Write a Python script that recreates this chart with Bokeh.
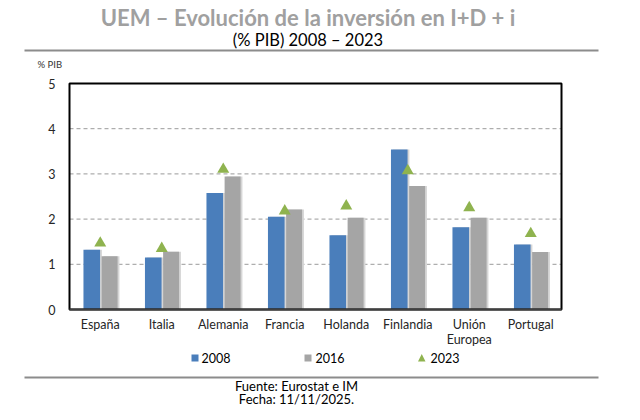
from bokeh.plotting import figure
from bokeh.models import (Range1d, FixedTicker, Label, ColumnDataSource,
                          BoxAnnotation, PolyAnnotation)
from bokeh.transform import dodge
from bokeh.embed import file_html
from bokeh.resources import INLINE

categories = ["España", "Italia", "Alemania", "Francia", "Holanda", "Finlandia",
              "Unión\nEuropea", "Portugal"]
v2008 = [1.32, 1.15, 2.58, 2.05, 1.64, 3.54, 1.82, 1.44]
v2016 = [1.18, 1.28, 2.94, 2.21, 2.03, 2.73, 2.03, 1.27]
v2023 = [1.47, 1.35, 3.10, 2.18, 2.29, 3.07, 2.25, 1.68]
series = ["2008", "2016", "2023"]
y_ticks = [0, 1, 2, 3, 4, 5]
title_text = "UEM – Evolución de la inversión en I+D + i"
subtitle_text = "(% PIB) 2008 – 2023"
unit_text = "% PIB"
source_text = "Fuente: Eurostat e IM"
date_text = "Fecha: 11/11/2025."

BLUE = "#4a7ebb"
GRAY = "#a5a5a5"
GREEN = "#8fb34f"
RULE = "#8c8c8c"
FONT = "Lato"

W, H = 640, 420
# plot-area placement on the canvas (pixels)
PL, PR, PT, PB = 69, 561, 83, 309
n = len(categories)
ymax = y_ticks[-1]
xs_per_px = n / (PR - PL)
ys_per_px = ymax / (PB - PT)
x_range = Range1d(-0.5 - PL * xs_per_px, n - 0.5 + (W - PR) * xs_per_px)
y_range = Range1d(-(H - PB) * ys_per_px, ymax + PT * ys_per_px)

xs = list(range(n))
src = ColumnDataSource(dict(x=xs, a=v2008, b=v2016, c=v2023))

p = figure(width=W, height=H, x_range=x_range, y_range=y_range, min_border=0,
           output_backend="svg", toolbar_location=None, tools="")
p.outline_line_color = None
p.xgrid.visible = False
p.ygrid.visible = False

# dashed gridlines across the plot area
p.segment(x0=[-0.5] * (len(y_ticks) - 2), x1=[n - 0.5] * (len(y_ticks) - 2),
          y0=y_ticks[1:-1], y1=y_ticks[1:-1],
          line_color="#9a9a9a", line_dash="4 3", line_width=1)

# bars (with soft shadow)
p.vbar(x=dodge("x", -0.138 + 0.03), top="a", width=0.27, source=src,
       fill_color="#d6d6d6", line_color=None)
p.vbar(x=dodge("x", 0.152 + 0.03), top="b", width=0.26, source=src,
       fill_color="#d6d6d6", line_color=None)
p.vbar(x=dodge("x", -0.138), top="a", width=0.27, source=src,
       fill_color=BLUE, line_color=None)
p.vbar(x=dodge("x", 0.152), top="b", width=0.26, source=src,
       fill_color=GRAY, line_color=None)
p.scatter(x="x", y="c", source=src, marker="triangle", size=12,
          fill_color=GREEN, line_color=None)

# plot-area border
p.quad(left=[-0.5], right=[n - 0.5], bottom=[0], top=[ymax],
       fill_color=None, line_color="black", line_width=2)

# axes pinned to the plot area
p.yaxis.fixed_location = -0.5
p.yaxis.bounds = (0, ymax)
p.yaxis.ticker = FixedTicker(ticks=y_ticks)
p.yaxis.axis_line_color = None
p.yaxis.major_tick_line_color = None
p.yaxis.minor_tick_line_color = None
p.yaxis.major_label_text_font = FONT
p.yaxis.major_label_text_font_size = "12.5px"
p.yaxis.major_label_text_color = "#262626"
p.yaxis.major_label_standoff = 8

p.xaxis.fixed_location = 0
p.xaxis.bounds = (-0.5, n - 0.5)
p.xaxis.ticker = FixedTicker(ticks=xs)
p.xaxis.major_label_overrides = {i: c for i, c in zip(xs, categories)}
p.xaxis.axis_line_color = "#404040"
p.xaxis.axis_line_width = 2
p.xaxis.major_tick_line_color = None
p.xaxis.minor_tick_line_color = None
p.xaxis.major_label_text_font = FONT
p.xaxis.major_label_text_font_size = "12.5px"
p.xaxis.major_label_text_color = "#262626"
p.xaxis.major_label_text_line_height = 1.05
p.xaxis.major_label_standoff = 1


def lab(text, x, y, size, color="black", bold=False, align="center"):
    p.add_layout(Label(x=x, y=H - y, x_units="screen", y_units="screen", text=text,
                       text_font=FONT, text_font_size=size, text_color=color,
                       text_font_style="bold" if bold else "normal",
                       text_align=align, text_baseline="middle"))


def box(l, r, t, b, color):
    p.add_layout(BoxAnnotation(left=l, right=r, top=H - t, bottom=H - b,
                               left_units="screen", right_units="screen",
                               top_units="screen", bottom_units="screen",
                               fill_color=color, fill_alpha=1, line_color=None))


# header
lab(title_text, 307.5, 16.5, "22px", "#a0a0a0", True)
lab(subtitle_text, 307.5, 39.5, "16.5px", "black")
box(24, 598, 49, 51, RULE)
lab(unit_text, 37, 64, "9.5px", "#333333", align="left")

# legend
box(191, 198, 354, 361, BLUE)
box(304, 311, 354, 361, GRAY)
p.add_layout(PolyAnnotation(xs=[417.5, 425, 421.25], ys=[H - 361, H - 361, H - 353.5],
                            xs_units="screen", ys_units="screen",
                            fill_color=GREEN, fill_alpha=1, line_color=None))
for sx, s in zip([201, 315, 430], series):
    lab(s, sx, 357.5, "12.5px", "black", align="left")

# footer
box(24, 598, 376, 378, RULE)
lab(source_text, 296, 385, "13px", "black")
lab(date_text, 296, 398, "13px", "black")

open("out.html", "w").write(file_html(p, INLINE))
